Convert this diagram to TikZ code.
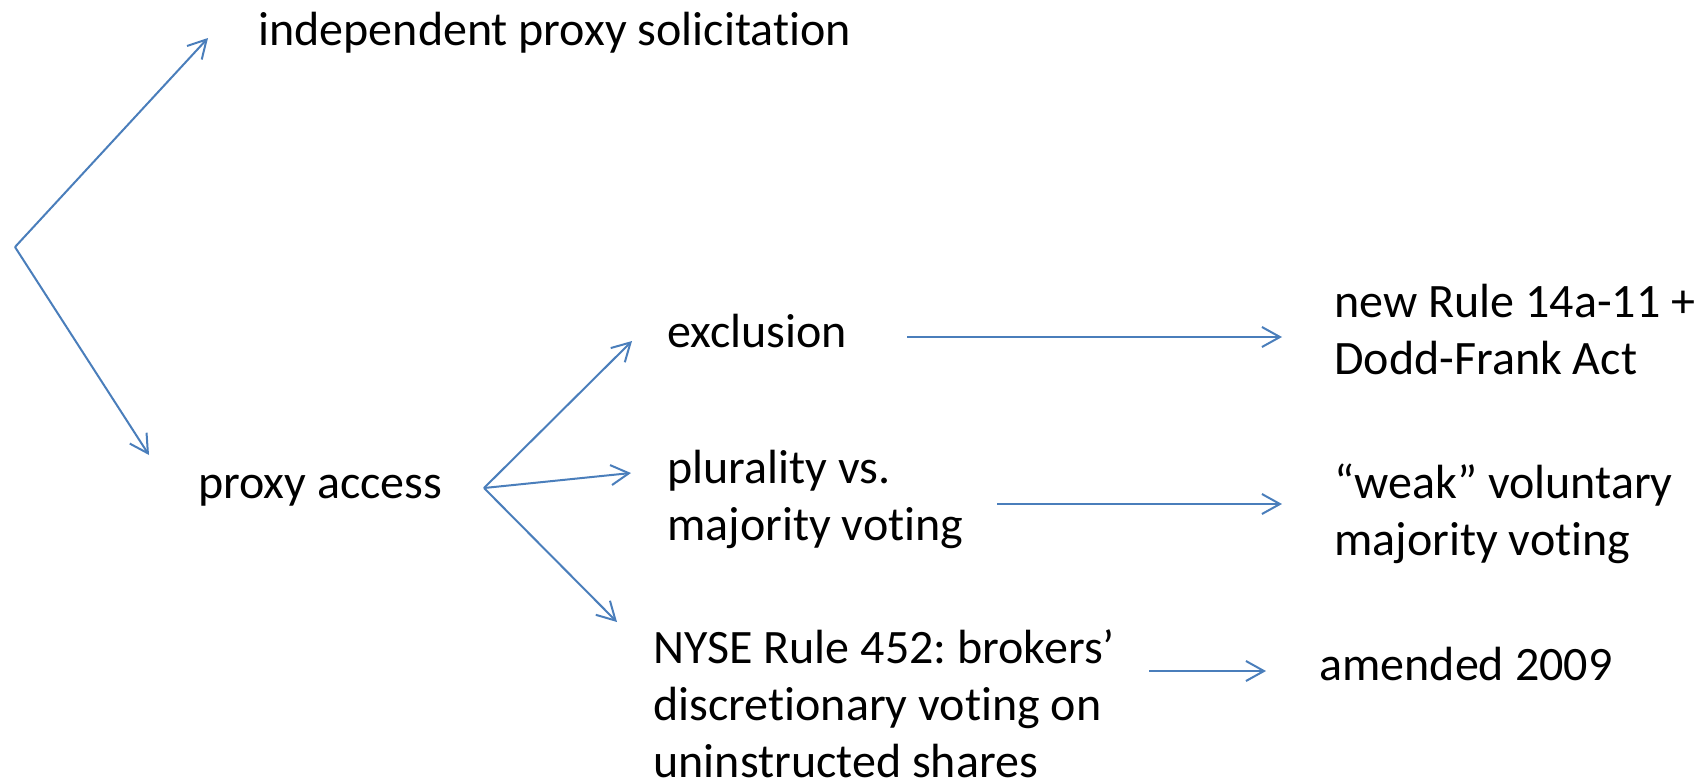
\documentclass[tikz,border=0pt]{standalone}
\usepackage{fontspec}
\setmainfont{Carlito}[Ligatures=NoCommon]
\usetikzlibrary{arrows.meta}
\definecolor{linkblue}{HTML}{4A7EBB}
\frenchspacing
\tikzset{
  lbl/.style={anchor=base west, inner sep=0pt, align=left,
    font=\fontsize{24pt}{28.5pt}\selectfont},
  link/.style={draw=linkblue, line width=1pt, line join=round,
    -{Straight Barb[length=9pt, width=10pt, line width=1pt]}}
}
\begin{document}
\begin{tikzpicture}[x=0.5pt, y=-0.5pt]
  \useasboundingbox (0,0) rectangle (1706,783);

  % texts (multi-line labels are placed by the baseline of their last line)
  \node[lbl] (indep) at (258,45) {independent proxy solicitation};
  \node[lbl] (access) at (198,498) {proxy access};
  \node[lbl] (excl) at (667,347) {exclusion};
  \node[lbl] (plur) at (667,540) {plurality vs.\\majority voting};
  \node[lbl] (nyse) at (653,777) {NYSE Rule 452: brokers’\\discretionary voting on\\uninstructed shares};
  \node[lbl] (rule) at (1334,374) {new Rule 14a-11 +\\Dodd-Frank Act};
  \node[lbl] (weak) at (1334,555) {“weak” voluntary\\majority voting};
  \node[lbl] (amend) at (1319,680) {amended 2009};

  % branching points and connector ends
  \coordinate (root) at (15,247);
  \coordinate (indepIn) at (208,38);
  \coordinate (accessIn) at (149,455);
  \coordinate (fan) at (484,488);
  \coordinate (exclIn) at (632,341);
  \coordinate (plurIn) at (631,473);
  \coordinate (nyseIn) at (617,622);
  \coordinate (exclOut) at (907,337);
  \coordinate (ruleIn) at (1282,337);
  \coordinate (plurOut) at (997,504);
  \coordinate (weakIn) at (1282,504);
  \coordinate (nyseOut) at (1149,671);
  \coordinate (amendIn) at (1266,671);

  % connectors
  \draw[link] (root) -- (indepIn);
  \draw[link] (root) -- (accessIn);
  \draw[link] (fan) -- (exclIn);
  \draw[link] (fan) -- (plurIn);
  \draw[link] (fan) -- (nyseIn);
  \draw[link] (exclOut) -- (ruleIn);
  \draw[link] (plurOut) -- (weakIn);
  \draw[link] (nyseOut) -- (amendIn);
\end{tikzpicture}
\end{document}
